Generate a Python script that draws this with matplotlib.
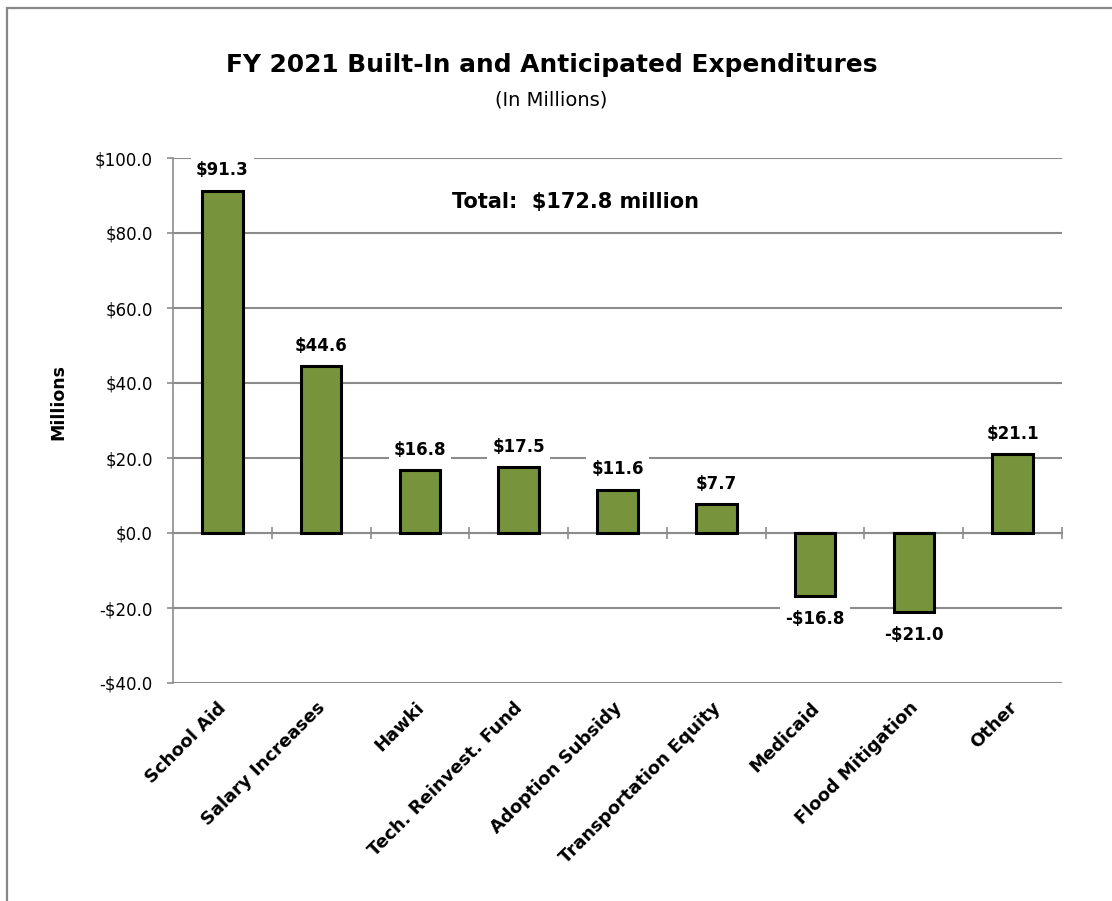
import matplotlib
matplotlib.use("Agg")
import matplotlib.pyplot as plt
from matplotlib.lines import Line2D
import matplotlib.transforms as mtransforms

plt.rcParams['font.family'] = ['DejaVu Sans']

categories = ["School Aid", "Salary Increases", "Hawki", "Tech. Reinvest. Fund",
              "Adoption Subsidy", "Transportation Equity", "Medicaid",
              "Flood Mitigation", "Other"]
values = [91.3, 44.6, 16.8, 17.5, 11.6, 7.7, -16.8, -21.0, 21.1]
yticks = [-40, -20, 0, 20, 40, 60, 80, 100]

title = "FY 2021 Built-In and Anticipated Expenditures"
subtitle = "(In Millions)"
total_text = "Total:  $172.8 million"

bar_color = "#77933C"
grid_color = "#8C8C8C"

W, H = 1112, 901
fig = plt.figure(figsize=(W / 100, H / 100), dpi=100)
# outer frame: only left and top edges visible in the reference
fig.add_artist(Line2D([7 / W, 7 / W, 1.0], [0.0, 1 - 8 / H, 1 - 8 / H],
                      transform=fig.transFigure, color="#878787",
                      linewidth=1.6, solid_joinstyle='miter'))

ax = fig.add_axes([173 / W, 1 - 683 / H, (1062 - 173) / W, (683 - 158) / H])

x = list(range(len(categories)))
ax.bar(x, values, width=0.41, color=bar_color, edgecolor="black",
       linewidth=2.2, zorder=3)

ax.set_xlim(-0.5, len(categories) - 0.5)
ax.set_ylim(yticks[0], yticks[-1])
ax.set_yticks(yticks)
ax.set_yticklabels([("-" if v < 0 else "") + f"${abs(v):.1f}" for v in yticks],
                   fontsize=12)
ax.tick_params(axis='y', direction='out', length=4.5, color=grid_color,
               width=1.2, pad=10)

for s in ["top", "right"]:
    ax.spines[s].set_visible(False)
ax.spines["left"].set_color(grid_color)
ax.spines["left"].set_linewidth(1.2)
ax.spines["bottom"].set_position(("data", 0))
ax.spines["bottom"].set_color(grid_color)
ax.spines["bottom"].set_linewidth(1.5)
ax.set_xticks([i + 0.5 for i in x])
ax.set_xticklabels([])
ax.tick_params(axis='x', direction='inout', length=9, color=grid_color, width=1.2)

ax.yaxis.grid(True, color=grid_color, linewidth=1.5, zorder=0)
ax.set_axisbelow(True)

# category labels
trans = mtransforms.blended_transform_factory(ax.transData, ax.transAxes)
for i, c in enumerate(categories):
    ax.text(i - 0.05, -0.03, c, transform=trans, rotation=45, ha='right',
            va='top', rotation_mode='anchor', fontsize=13, fontweight='bold')

# value labels
for i, v in enumerate(values):
    lab = ("-" if v < 0 else "") + f"${abs(v):.1f}"
    off = 14.5 if v >= 0 else -16.5
    ax.annotate(lab, (i, v), xytext=(0, off), textcoords='offset points',
                ha='center', va='center', fontsize=12, fontweight='bold',
                bbox=dict(boxstyle='square,pad=0.3', fc='white', ec='none'),
                zorder=4)

ax.text(575 / W, 1 - 208 / H, total_text, transform=fig.transFigure,
        ha='center', va='baseline', fontsize=15, fontweight='bold')

fig.text(58 / W, 1 - 402 / H, "Millions", rotation=90, ha='center',
         va='center', fontsize=12.5, fontweight='bold')

fig.text(552 / W, 1 - 72 / H, title, ha='center', va='baseline', fontsize=17.9,
         fontweight='bold')
fig.text(551 / W, 1 - 105 / H, subtitle, ha='center', va='baseline', fontsize=14)

fig.savefig("out.png", dpi=100, facecolor="white")
